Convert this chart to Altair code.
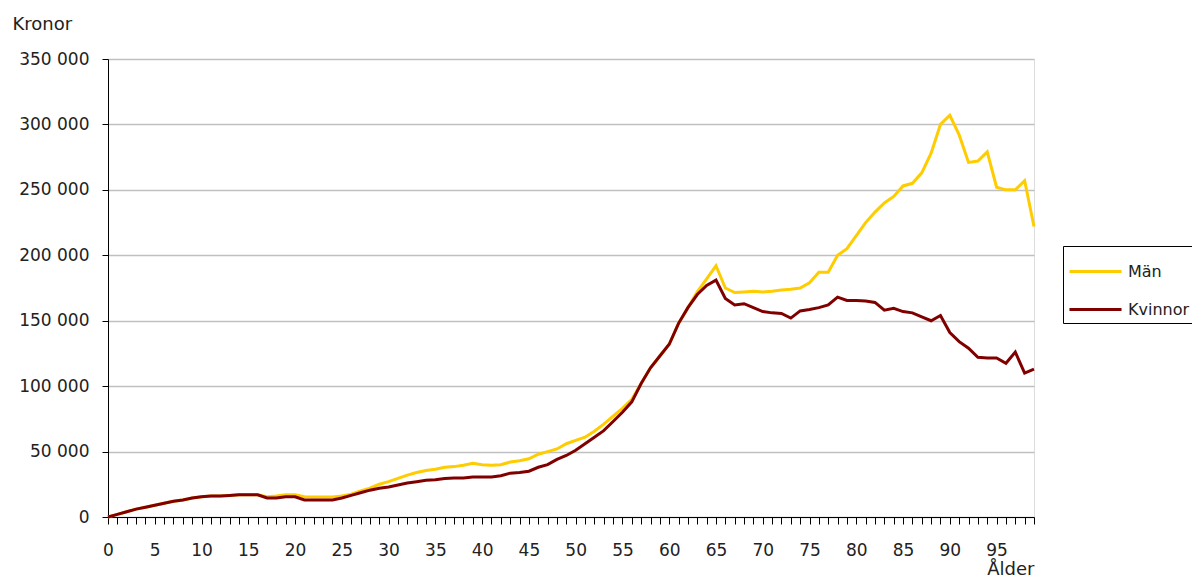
import altair as alt
import pandas as pd

ages = list(range(100))

man = [
    0, 2000, 4000, 6000, 7500, 9000, 10500, 12000, 13000, 14500,
    15500, 16000, 16000, 16500, 17000, 17000, 17000, 15500, 16000, 17000,
    17000, 15500, 15300, 15300, 15300, 16000, 17500, 20000, 22000, 25000,
    27000, 29500, 32000, 34000, 35500, 36500, 38000, 38500, 39500, 41000,
    40000, 39500, 40000, 42000, 43000, 44500, 48000, 50000, 52000, 56000,
    58500, 61000, 65500, 71000, 77000, 83000, 90000, 102000, 114000, 123000,
    132000, 148000, 160000, 172000, 182000, 192000, 175000, 171500, 172000, 172500,
    172000, 172500, 173500, 174000, 175000, 179000, 187000, 187000, 200000, 205000,
    215000, 225000, 233000, 240000, 245000, 253000, 255000, 263000, 278000, 300000,
    307000, 292000, 271000, 272000, 279000, 252000, 250000, 250000, 257000, 222000,
]

kvinnor = [
    0, 2000, 4000, 6000, 7500, 9000, 10500, 12000, 13000, 14500,
    15500, 16000, 16000, 16500, 17000, 17000, 17000, 14500, 14500, 15500,
    15500, 13000, 13000, 13000, 13000, 14500, 16500, 18500, 20500, 22000,
    23000, 24500, 26000, 27000, 28000, 28500, 29500, 29800, 29800, 30500,
    30600, 30600, 31500, 33500, 34000, 35000, 38000, 40000, 44000, 47000,
    51000, 56000, 61000, 66000, 73000, 80000, 88000, 102000, 114000, 123000,
    132000, 148000, 160000, 170000, 177000, 181000, 167000, 162000, 163000, 160000,
    157000, 156000, 155500, 152000, 157500, 158500, 160000, 162000, 168000, 165500,
    165500, 165000, 164000, 158000, 159500, 157000, 156000, 153000, 150000, 154000,
    141000, 134000, 129000, 122000, 121500, 121500, 117500, 126000, 110000, 113000,
]

series = ["Män", "Kvinnor"]
colors = ["#FFCC00", "#800000"]
y_ticks = [0, 50000, 100000, 150000, 200000, 250000, 300000, 350000]

df = pd.DataFrame({
    "Ålder": ages + ages,
    "Kronor": man + kvinnor,
    "Kön": [series[0]] * len(ages) + [series[1]] * len(ages),
})

FONT = "DejaVu Sans"
TXT = "#222222"

x_enc = alt.X(
    "Ålder:Q",
    scale=alt.Scale(domain=[0, 99], nice=False, zero=False),
    axis=alt.Axis(
        values=ages,
        labelExpr="datum.value % 5 == 0 ? datum.label : ''",
        labelOverlap=False,
        labelFlush=False,
        grid=False,
        tickSize=7,
        tickColor="black",
        domainColor="black",
        labelFont=FONT,
        labelFontSize=17,
        labelColor=TXT,
        labelPadding=18,
        title="Ålder",
        titleFont=FONT,
        titleFontSize=18,
        titleFontWeight="normal",
        titleColor=TXT,
        titleX=926,
        titleY=57,
        titleAlign="right",
        titleBaseline="alphabetic",
    ),
)

y_enc = alt.Y(
    "Kronor:Q",
    scale=alt.Scale(domain=[0, 350000], nice=False),
    axis=alt.Axis(
        values=y_ticks,
        labelExpr="replace(format(datum.value, ',d'), ',', '  ')",
        tickSize=6,
        tickColor="black",
        domainColor="black",
        gridColor="#C0C0C0",
        gridWidth=1.5,
        labelFont=FONT,
        labelFontSize=17,
        labelColor=TXT,
        labelPadding=13,
        title="Kronor",
        titleFont=FONT,
        titleFontSize=18,
        titleFontWeight="normal",
        titleColor=TXT,
        titleAngle=0,
        titleX=-96,
        titleY=-30,
        titleAlign="left",
        titleBaseline="alphabetic",
    ),
)

color_enc = alt.Color(
    "Kön:N",
    scale=alt.Scale(domain=series, range=colors),
    legend=alt.Legend(
        title=None,
        orient="none",
        legendX=955,
        legendY=187,
        symbolType="M-1.37,0H1.37",
        symbolSize=1444,
        symbolStrokeWidth=3,
        symbolFillColor="transparent",
        symbolOffset=7,
        labelFont=FONT,
        labelFontSize=16,
        labelColor=TXT,
        labelOffset=12,
        fillColor="white",
        strokeColor="black",
        padding=5,
        rowPadding=9,
    ),
)

base = alt.Chart(df).mark_line(strokeWidth=3).encode(x=x_enc, y=y_enc, color=color_enc)

men_line = base.transform_filter(alt.datum["Kön"] == series[0])
women_line = base.transform_filter(alt.datum["Kön"] == series[1])

chart = (
    alt.layer(men_line, women_line)
    .properties(
        width=926,
        height=458,
        autosize=alt.AutoSizeParams(type="none"),
        padding={"left": 100, "top": 51, "right": 158, "bottom": 63},
    )
    .configure_view(fill="#FFFFCC", stroke="black", strokeWidth=1)
    .configure(background="white")
)

chart.save("out.html", embed_options={"renderer": "svg", "actions": False})
